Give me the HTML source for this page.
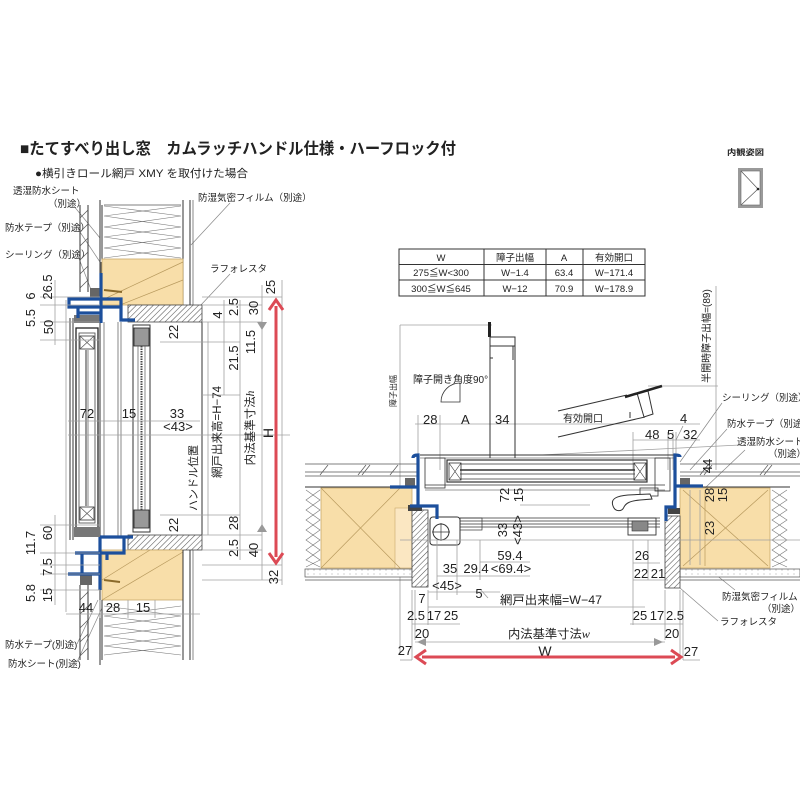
<!DOCTYPE html>
<html><head><meta charset="utf-8"><style>
html,body{margin:0;padding:0;background:#fff;}
svg{display:block}
text{font-family:"Liberation Sans","Noto Sans CJK JP",sans-serif;fill:#222}
.d{font-size:13px}
.s{font-size:9.5px}
.g{stroke:#a0a0a0;stroke-width:0.8;fill:none}
.k{stroke:#333;stroke-width:1;fill:none}
.k2{stroke:#555;stroke-width:0.7;fill:none}
.k3{stroke:#777;stroke-width:0.6;fill:none}
.b{stroke:#1c4f9c;stroke-width:3.2;fill:none;stroke-linejoin:miter}
.tan{fill:#f8dea9;stroke:#c9a96a;stroke-width:0.8}
.x{stroke:#b89a5e;stroke-width:0.7;fill:none}
.ld{stroke:#888;stroke-width:0.7;fill:none}
</style></head><body>
<svg width="800" height="800" viewBox="0 0 800 800" xmlns="http://www.w3.org/2000/svg">
<defs>
<pattern id="h" width="4" height="4" patternUnits="userSpaceOnUse" patternTransform="rotate(45)"><rect width="4" height="4" fill="#fff"/><line x1="0" y1="0" x2="0" y2="4" stroke="#555" stroke-width="1.1"/></pattern>
<pattern id="dt" width="6" height="4" patternUnits="userSpaceOnUse"><rect width="6" height="4" fill="#fff"/><circle cx="2" cy="2" r="0.5" fill="#888"/></pattern>
</defs>
<rect width="800" height="800" fill="#fff"/>

<!-- TITLE -->
<text x="20" y="154" font-size="16" font-weight="bold" textLength="436" lengthAdjust="spacingAndGlyphs">■たてすべり出し窓　カムラッチハンドル仕様・ハーフロック付</text>
<text x="35" y="177" font-size="11" textLength="213" lengthAdjust="spacingAndGlyphs">●横引きロール網戸 XMY を取付けた場合</text>

<!-- interior view icon -->
<text x="727" y="155" font-size="8" font-weight="bold" textLength="37" lengthAdjust="spacingAndGlyphs">内観姿図</text>
<rect x="738" y="168" width="25" height="40" fill="#9a9a9a"/>
<rect x="741" y="171" width="19" height="34" fill="#fff" stroke="#666" stroke-width="0.6"/>
<polyline points="741,171 758,189 741,205" fill="none" stroke="#555" stroke-width="0.7"/>
<circle cx="758" cy="189" r="1.3" fill="#222"/>

<!-- ================= LEFT DRAWING ================= -->
<text class="s" x="13" y="194">透湿防水シート</text>
<text class="s" x="48" y="207">（別途）</text>
<text class="s" x="5" y="231">防水テープ（別途）</text>
<text class="s" x="5" y="258">シーリング（別途）</text>
<text class="s" x="198" y="201">防湿気密フィルム（別途）</text>
<text class="s" x="210" y="272">ラフォレスタ</text>
<text class="s" x="5" y="648">防水テープ(別途)</text>
<text class="s" x="8" y="667">防水シート(別途)</text>
<line class="ld" x1="73" y1="205" x2="100" y2="238"/>
<line class="ld" x1="78" y1="229" x2="100" y2="262"/>
<line class="ld" x1="78" y1="256" x2="95" y2="300"/>
<line class="ld" x1="230" y1="203" x2="191" y2="245"/>
<line class="ld" x1="230" y1="274" x2="200" y2="306"/>
<line class="ld" x1="77" y1="644" x2="98" y2="600"/>
<line class="ld" x1="77" y1="662" x2="102" y2="608"/>

<!-- top wall -->
<line class="k" x1="80" y1="205" x2="80" y2="292"/>
<line class="k" x1="88" y1="205" x2="88" y2="292"/>
<g class="k2">
<line x1="80" y1="218" x2="88" y2="210"/><line x1="80" y1="232" x2="88" y2="224"/><line x1="80" y1="246" x2="88" y2="238"/><line x1="80" y1="260" x2="88" y2="252"/><line x1="80" y1="274" x2="88" y2="266"/><line x1="80" y1="288" x2="88" y2="280"/>
</g>
<line class="k" x1="100" y1="200" x2="100" y2="300"/>
<line class="k" x1="102" y1="205" x2="102" y2="260"/>
<rect x="100" y="262" width="2" height="30" fill="#555"/>
<polyline class="k3" points="104,206 181,216 104,227 181,237 104,248 181,258"/>
<polyline class="k3" points="181,206 104,216 181,227 104,237 181,248 104,258"/>
<line class="k2" x1="104" y1="205" x2="181" y2="205"/>
<line class="k" x1="183" y1="200" x2="183" y2="305"/>
<line class="k" x1="190" y1="200" x2="190" y2="305"/>
<line class="k2" x1="193" y1="200" x2="193" y2="305"/>
<rect class="tan" x="102" y="259" width="81" height="46"/>
<line class="x" x1="102" y1="300" x2="183" y2="262"/>
<line class="x" x1="120" y1="305" x2="183" y2="280"/>
<rect x="128" y="305" width="74" height="17" fill="url(#h)" stroke="#444" stroke-width="0.8"/>
<rect x="90" y="288" width="12" height="10" fill="#666"/>
<line x1="104" y1="290" x2="122" y2="292" stroke="#8a6a2a" stroke-width="2"/>

<!-- bottom wall -->
<rect x="128" y="535" width="74" height="15" fill="url(#h)" stroke="#444" stroke-width="0.8"/>
<rect class="tan" x="102" y="550" width="81" height="50"/>
<line class="x" x1="102" y1="600" x2="183" y2="552"/>
<line class="x" x1="102" y1="580" x2="150" y2="550"/>
<line x1="104" y1="580" x2="120" y2="582" stroke="#8a6a2a" stroke-width="2"/>
<line class="k" x1="183" y1="550" x2="183" y2="660"/>
<line class="k" x1="190" y1="550" x2="190" y2="660"/>
<line class="k2" x1="193" y1="550" x2="193" y2="660"/>
<polyline class="k3" points="104,606 181,616 104,626 181,636 104,646 181,655"/>
<polyline class="k3" points="181,606 104,616 181,626 104,636 181,646 104,655"/>
<line class="k" x1="102" y1="600" x2="102" y2="660"/>
<line class="k" x1="100" y1="580" x2="100" y2="665"/>
<line class="k" x1="80" y1="585" x2="80" y2="660"/>
<line class="k" x1="88" y1="585" x2="88" y2="660"/>
<g class="k2">
<line x1="80" y1="600" x2="88" y2="592"/><line x1="80" y1="614" x2="88" y2="606"/><line x1="80" y1="628" x2="88" y2="620"/><line x1="80" y1="642" x2="88" y2="634"/><line x1="80" y1="656" x2="88" y2="648"/>
</g>
<rect x="80" y="575" width="12" height="10" fill="#666"/>

<!-- window sash (left) -->
<line class="k" x1="70" y1="318" x2="70" y2="540"/>
<line class="k" x1="73" y1="318" x2="73" y2="540"/>
<rect x="76" y="328" width="22" height="200" fill="none" stroke="#222" stroke-width="1.3"/>
<rect x="79" y="333" width="16" height="190" fill="none" stroke="#444" stroke-width="0.8"/>
<rect x="80" y="336" width="14" height="13" fill="none" stroke="#333" stroke-width="0.8"/>
<path d="M80,336 L94,349 M94,336 L80,349" class="k2"/>
<rect x="80" y="507" width="14" height="13" fill="none" stroke="#333" stroke-width="0.8"/>
<path d="M80,507 L94,520 M94,507 L80,520" class="k2"/>
<line class="k" x1="86" y1="350" x2="86" y2="506"/>
<line class="k2" x1="88" y1="350" x2="88" y2="506"/>
<line class="k" x1="100" y1="322" x2="100" y2="536"/>
<line class="k2" x1="104" y1="322" x2="104" y2="536"/>
<line class="k2" x1="118" y1="322" x2="118" y2="536"/>
<line class="k2" x1="121" y1="322" x2="121" y2="536"/>
<rect x="74" y="315" width="26" height="8" fill="#777"/>
<rect x="74" y="527" width="26" height="10" fill="#777"/>
<!-- screen -->
<rect x="133" y="325" width="17" height="207" fill="none" stroke="#333" stroke-width="1"/>
<rect x="134" y="328" width="15" height="18" fill="#999" stroke="#222" stroke-width="0.8"/>
<rect x="134" y="510" width="15" height="18" fill="#999" stroke="#222" stroke-width="0.8"/>
<line x1="141.5" y1="346" x2="141.5" y2="510" stroke="#444" stroke-width="2" stroke-dasharray="1.5 1"/>
<line class="k2" x1="138" y1="346" x2="138" y2="510"/>
<line class="k2" x1="145" y1="346" x2="145" y2="510"/>
<line class="k" x1="202" y1="322" x2="202" y2="535"/>

<!-- blue frames left -->
<path class="b" d="M101,273 L101,323 M69,299 L121,299 L121,307 L69,307 Z M121,307 L121,320 L135,320 M78,313 L101,313 M78,307 L78,318"/>
<path class="b" d="M100,537 L100,590 M100,537 L133,537 M124,537 L124,553 L75,553 M68,574 L100,574 M82,553 L82,574 M107,553 L107,560"/>

<!-- gray dims left -->
<g class="g">
<line x1="40" y1="297" x2="100" y2="297"/>
<line x1="40" y1="305" x2="100" y2="305"/>
<line x1="40" y1="322" x2="100" y2="322"/>
<line x1="40" y1="340" x2="100" y2="340"/>
<line x1="55" y1="280" x2="55" y2="345"/>
<line x1="40" y1="525" x2="100" y2="525"/>
<line x1="40" y1="553" x2="100" y2="553"/>
<line x1="40" y1="565" x2="100" y2="565"/>
<line x1="40" y1="574" x2="100" y2="574"/>
<line x1="40" y1="590" x2="100" y2="590"/>
<line x1="55" y1="515" x2="55" y2="605"/>
<line x1="66" y1="300" x2="66" y2="612"/>
<line x1="66" y1="614" x2="200" y2="614"/>
<line x1="100" y1="600" x2="100" y2="618"/>
<line x1="128" y1="600" x2="128" y2="618"/>
<line x1="155" y1="600" x2="155" y2="618"/>
<line x1="68" y1="421" x2="200" y2="421"/>
<line x1="68" y1="435" x2="290" y2="435"/>
<line x1="202" y1="297" x2="282" y2="297"/>
<line x1="202" y1="305" x2="262" y2="305"/>
<line x1="202" y1="322" x2="262" y2="322"/>
<line x1="160" y1="342" x2="240" y2="342"/>
<line x1="202" y1="395" x2="240" y2="395"/>
<line x1="160" y1="515" x2="240" y2="515"/>
<line x1="202" y1="535" x2="262" y2="535"/>
<line x1="202" y1="550" x2="262" y2="550"/>
<line x1="202" y1="565" x2="282" y2="565"/>
<line x1="202" y1="580" x2="282" y2="580"/>
<line x1="224" y1="300" x2="224" y2="395"/>
<line x1="240" y1="300" x2="240" y2="560"/>
<line x1="262" y1="285" x2="262" y2="580"/>
<line x1="282" y1="280" x2="282" y2="585"/>
<line x1="208" y1="322" x2="208" y2="535"/>
</g>
<polygon points="257,322 267,322 262,330" fill="#999"/>
<polygon points="257,532 267,532 262,524" fill="#999"/>

<g class="d" text-anchor="middle">
<text transform="translate(35,296) rotate(-90)">6</text>
<text transform="translate(52,287) rotate(-90)">26.5</text>
<text transform="translate(35,318) rotate(-90)">5.5</text>
<text transform="translate(53,327) rotate(-90)">50</text>
<text transform="translate(35,543) rotate(-90)">11.7</text>
<text transform="translate(52,533) rotate(-90)">60</text>
<text transform="translate(52,567) rotate(-90)">7.5</text>
<text transform="translate(35,593) rotate(-90)">5.8</text>
<text transform="translate(52,595) rotate(-90)">15</text>
<text x="86" y="612">44</text>
<text x="113" y="612">28</text>
<text x="143" y="612">15</text>
<text x="87" y="418">72</text>
<text x="129" y="418">15</text>
<text x="177" y="418">33</text>
<text x="178" y="431">&lt;43&gt;</text>
<text transform="translate(178,332) rotate(-90)">22</text>
<text transform="translate(178,525) rotate(-90)">22</text>
<text transform="translate(275,287) rotate(-90)">25</text>
<text transform="translate(238,307) rotate(-90)">2.5</text>
<text transform="translate(258,308) rotate(-90)">30</text>
<text transform="translate(222,315) rotate(-90)">4</text>
<text transform="translate(255,342) rotate(-90)">11.5</text>
<text transform="translate(238,358) rotate(-90)">21.5</text>
<text transform="translate(238,523) rotate(-90)">28</text>
<text transform="translate(238,548) rotate(-90)">2.5</text>
<text transform="translate(258,550) rotate(-90)">40</text>
<text transform="translate(278,577) rotate(-90)">32</text>
</g>
<g text-anchor="middle">
<text transform="translate(197,478) rotate(-90)" font-size="11">ハンドル位置</text>
<text transform="translate(221,432) rotate(-90)" font-size="11.5">網戸出来高=H−74</text>
<text transform="translate(254,428) rotate(-90)" font-size="11.5">内法基準寸法<tspan font-family="Liberation Serif" font-style="italic">h</tspan></text>
<text transform="translate(273,433) rotate(-90)" font-size="14">H</text>
</g>
<line x1="276" y1="306" x2="276" y2="557" stroke="#dc4a55" stroke-width="3"/>
<polyline points="269,310 276,300 283,310" fill="none" stroke="#dc4a55" stroke-width="3"/>
<polyline points="269,553 276,563 283,553" fill="none" stroke="#dc4a55" stroke-width="3"/>

<!-- ================= RIGHT DRAWING ================= -->
<g stroke="#333" stroke-width="1" fill="none">
<rect x="399" y="249" width="246" height="47"/>
<line x1="399" y1="264.5" x2="645" y2="264.5"/>
<line x1="399" y1="280" x2="645" y2="280"/>
<line x1="484" y1="249" x2="484" y2="296"/>
<line x1="546" y1="249" x2="546" y2="296"/>
<line x1="583" y1="249" x2="583" y2="296"/>
</g>
<g font-size="9.5" text-anchor="middle">
<text x="441" y="261">W</text><text x="515" y="261">障子出幅</text><text x="564" y="261">A</text><text x="614" y="261">有効開口</text>
<text x="441" y="276">275≦W&lt;300</text><text x="515" y="276">W−1.4</text><text x="564" y="276">63.4</text><text x="614" y="276">W−171.4</text>
<text x="441" y="292">300≦W≦645</text><text x="515" y="292">W−12</text><text x="564" y="292">70.9</text><text x="614" y="292">W−178.9</text>
</g>

<g class="g">
<line x1="400" y1="325" x2="492" y2="325"/>
<line x1="400" y1="325" x2="400" y2="655"/>
<line x1="415" y1="424" x2="700" y2="424"/>
<line x1="418" y1="415" x2="418" y2="470"/>
<line x1="440" y1="415" x2="440" y2="470"/>
<line x1="648" y1="386" x2="718" y2="386"/>
<line x1="716" y1="286" x2="716" y2="470"/>
<line x1="633" y1="440" x2="700" y2="440"/>
<line x1="633" y1="432" x2="633" y2="470"/>
<line x1="668" y1="432" x2="668" y2="470"/>
<line x1="673" y1="432" x2="673" y2="470"/>
<line x1="676" y1="432" x2="676" y2="470"/>
<line x1="540" y1="455" x2="740" y2="445"/>
</g>
<rect x="488" y="322" width="3" height="15" fill="#222"/>
<rect x="490" y="337" width="25" height="9" fill="none" stroke="#333" stroke-width="1"/>
<line class="k" x1="490" y1="346" x2="490" y2="458"/>
<line class="k" x1="515" y1="346" x2="515" y2="458"/>
<line class="k" x1="513" y1="346" x2="513" y2="360"/>
<line class="k" x1="490" y1="358" x2="493" y2="358"/>
<text transform="translate(396,391) rotate(-90)" font-size="8" text-anchor="middle">障子出幅</text>
<text x="413" y="383" font-size="10">障子開き角度90°</text>
<path d="M441,402 A19,19 0 0 1 460,383 L460,402 Z" fill="none" stroke="#333" stroke-width="0.8"/>
<g class="d">
<text x="423" y="424">28</text>
<text x="461" y="424">A</text>
<text x="495" y="424">34</text>
<text x="645" y="439">48</text>
<text x="667" y="439">5</text>
<text x="680" y="423">4</text>
<text x="683" y="439">32</text>
</g>
<text x="563" y="422" font-size="10">有効開口</text>
<line class="ld" x1="676" y1="440" x2="683" y2="426"/>
<line class="k" x1="558" y1="411" x2="627" y2="395"/>
<line class="k" x1="558" y1="437" x2="645" y2="417"/>
<polygon points="637,393 648,391 653,414 644,417" fill="none" stroke="#333" stroke-width="1"/>
<line x1="625" y1="397" x2="662" y2="386" stroke="#222" stroke-width="2.5"/>
<line class="k" x1="630" y1="412" x2="630" y2="418"/>
<text transform="translate(710,336) rotate(-90)" font-size="10" text-anchor="middle">半開時障子出幅=(89)</text>

<text class="s" x="722" y="401">シーリング（別途）</text>
<text class="s" x="727" y="427">防水テープ（別途）</text>
<text class="s" x="737" y="445">透湿防水シート</text>
<text class="s" x="768" y="457">（別途）</text>
<text class="s" x="722" y="600">防湿気密フィルム</text>
<text class="s" x="762" y="612">（別途）</text>
<text class="s" x="720" y="625">ラフォレスタ</text>
<line class="ld" x1="722" y1="403" x2="680" y2="462"/>
<line class="ld" x1="727" y1="429" x2="690" y2="470"/>
<line class="ld" x1="745" y1="450" x2="705" y2="488"/>
<line class="ld" x1="735" y1="590" x2="710" y2="570"/>
<line class="ld" x1="718" y1="621" x2="680" y2="588"/>

<g class="k2">
<line x1="305" y1="464" x2="418" y2="464"/>
<line x1="305" y1="472" x2="418" y2="472"/>
<line x1="305" y1="476" x2="418" y2="476"/>
<line x1="320" y1="475" x2="328" y2="465"/><line x1="358" y1="475" x2="366" y2="465"/><line x1="362" y1="475" x2="370" y2="465"/><line x1="390" y1="475" x2="398" y2="465"/>
<line x1="680" y1="464" x2="800" y2="464"/>
<line x1="680" y1="472" x2="800" y2="472"/>
<line x1="680" y1="476" x2="800" y2="476"/>
<line x1="700" y1="475" x2="708" y2="465"/><line x1="704" y1="475" x2="712" y2="465"/><line x1="760" y1="475" x2="768" y2="465"/><line x1="764" y1="475" x2="772" y2="465"/>
</g>
<line class="k" x1="305" y1="487" x2="412" y2="487"/>
<line class="k" x1="680" y1="487" x2="790" y2="487"/>
<rect class="tan" x="321" y="488" width="91" height="80"/>
<rect x="395" y="508" width="17" height="60" fill="#fbe7c2" stroke="#c9a96a" stroke-width="0.6"/>
<line class="x" x1="321" y1="488" x2="400" y2="568"/>
<line class="x" x1="400" y1="488" x2="321" y2="568"/>
<rect class="tan" x="680" y="488" width="90" height="80"/>
<line class="x" x1="683" y1="490" x2="768" y2="566"/>
<line class="x" x1="768" y1="490" x2="683" y2="566"/>
<line class="x" x1="705" y1="490" x2="705" y2="566"/>
<polyline class="k3" points="306,490 320,500 306,510 320,520 306,530 320,540 306,550 320,560 306,567"/>
<polyline class="k3" points="320,490 306,500 320,510 306,520 320,530 306,540 320,550 306,560 320,567"/>
<polyline class="k3" points="772,490 787,500 772,510 787,520 772,530 787,540 772,550 787,560 772,567"/>
<polyline class="k3" points="787,490 772,500 787,510 772,520 787,530 772,540 787,550 772,560 787,567"/>
<rect x="305" y="569" width="107" height="8" fill="url(#dt)" stroke="#555" stroke-width="0.7"/>
<rect x="680" y="569" width="120" height="8" fill="url(#dt)" stroke="#555" stroke-width="0.7"/>
<line class="k2" x1="305" y1="580" x2="412" y2="580"/>
<line class="k2" x1="680" y1="580" x2="800" y2="580"/>
<rect x="412" y="510" width="16" height="77" fill="url(#h)" stroke="#444" stroke-width="0.8"/>
<rect x="665" y="516" width="15" height="72" fill="url(#h)" stroke="#444" stroke-width="0.8"/>
<rect x="405" y="478" width="10" height="10" fill="#666"/>
<rect x="680" y="478" width="10" height="8" fill="#666"/>
<rect x="408" y="505" width="14" height="6" fill="#444"/>
<rect x="668" y="508" width="12" height="6" fill="#444"/>

<g stroke="#333" fill="none">
<line x1="420" y1="455" x2="675" y2="455" stroke-width="1"/>
<line x1="420" y1="458" x2="675" y2="458" stroke-width="0.6"/>
<rect x="447" y="460" width="200" height="22" stroke-width="1.2"/>
<line x1="460" y1="464" x2="635" y2="464" stroke-width="0.7"/>
<line x1="460" y1="470" x2="635" y2="470" stroke-width="1.5"/>
<line x1="460" y1="474" x2="635" y2="474" stroke-width="0.7"/>
<line x1="460" y1="479" x2="635" y2="479" stroke-width="0.7"/>
<rect x="449" y="463" width="12" height="17" stroke-width="0.8"/>
<path d="M449,463 L461,480 M461,463 L449,480" stroke-width="0.6"/>
<rect x="634" y="463" width="12" height="17" stroke-width="0.8"/>
<path d="M634,463 L646,480 M646,463 L634,480" stroke-width="0.6"/>
<line x1="425" y1="485" x2="665" y2="485" stroke-width="0.8"/>
<line x1="425" y1="490" x2="665" y2="490" stroke-width="0.6"/>
<rect x="425" y="458" width="20" height="30" stroke-width="0.8"/>
<rect x="655" y="458" width="15" height="33" stroke-width="0.8"/>
<rect x="640" y="488" width="18" height="8" stroke-width="0.8"/>
</g>
<path d="M650,494 L628,495 C618,496 610,498 613,506 C615,512 622,512 624,507 C626,503 630,501 640,500 L652,499 Z" fill="#fff" stroke="#333" stroke-width="1"/>
<g stroke="#333" fill="none">
<line x1="460" y1="518" x2="660" y2="518" stroke-width="0.8"/>
<line x1="460" y1="521" x2="660" y2="521" stroke-width="0.8"/>
<line x1="460" y1="524" x2="660" y2="524" stroke-width="0.8"/>
<line x1="460" y1="527" x2="660" y2="527" stroke-width="0.8"/>
<rect x="430" y="517" width="30" height="28" rx="3" stroke-width="1"/>
<circle cx="441" cy="532" r="8" stroke-width="1"/>
<line x1="432" y1="532" x2="450" y2="532" stroke-width="0.7"/>
<line x1="441" y1="523" x2="441" y2="541" stroke-width="0.7"/>
<rect x="460" y="518" width="22" height="12" stroke-width="0.7"/>
<rect x="628" y="518" width="28" height="17" stroke-width="0.9"/>
<rect x="632" y="521" width="16" height="10" fill="#888" stroke-width="0.6"/>
</g>
<path class="b" d="M413,458 Q413,455 418,455 L418,506 L437,506 L437,519 M390,487 L418,487 M410,506 L418,506"/>
<path class="b" d="M680,457 Q680,455 675,455 L675,507 L666,507 L666,521 M675,486 L703,486"/>

<g class="g">
<line x1="437" y1="540" x2="437" y2="600"/>
<line x1="457" y1="540" x2="457" y2="595"/>
<line x1="480" y1="540" x2="480" y2="580"/>
<line x1="412" y1="590" x2="412" y2="660"/>
<line x1="415" y1="590" x2="415" y2="640"/>
<line x1="428" y1="590" x2="428" y2="625"/>
<line x1="633" y1="540" x2="633" y2="625"/>
<line x1="648" y1="540" x2="648" y2="580"/>
<line x1="665" y1="590" x2="665" y2="640"/>
<line x1="680" y1="590" x2="680" y2="660"/>
<line x1="683" y1="590" x2="683" y2="660"/>
<line x1="690" y1="490" x2="690" y2="565"/>
<line x1="700" y1="490" x2="700" y2="565"/>
<line x1="480" y1="562" x2="530" y2="562"/>
<line x1="437" y1="576" x2="530" y2="576"/>
<line x1="428" y1="592" x2="500" y2="592"/>
<line x1="633" y1="563" x2="660" y2="563"/>
<line x1="633" y1="580" x2="668" y2="580"/>
<line x1="428" y1="607" x2="645" y2="607"/>
<line x1="412" y1="624" x2="460" y2="624"/>
<line x1="630" y1="624" x2="683" y2="624"/>
<line x1="415" y1="642" x2="665" y2="642"/>
<line x1="400" y1="660" x2="412" y2="660"/>
<line x1="683" y1="660" x2="700" y2="660"/>
<line x1="480" y1="589" x2="488" y2="598"/>
<line x1="590" y1="505" x2="520" y2="505"/>
<line x1="400" y1="540" x2="800" y2="540"/>
</g>
<polygon points="417,642 426,638 426,646" fill="#999"/>
<polygon points="663,642 654,638 654,646" fill="#999"/>

<g class="d" text-anchor="middle">
<text transform="translate(509,495) rotate(-90)">72</text>
<text transform="translate(523,495) rotate(-90)">15</text>
<text transform="translate(507,530) rotate(-90)">33</text>
<text transform="translate(522,530) rotate(-90)">&lt;43&gt;</text>
<text transform="translate(714,495) rotate(-90)">28</text>
<text transform="translate(727,495) rotate(-90)">15</text>
<text transform="translate(714,528) rotate(-90)">23</text>
<text transform="translate(712,466) rotate(-90)">44</text>
<text x="510" y="560">59.4</text>
<text x="511" y="573">&lt;69.4&gt;</text>
<text x="450" y="573">35</text>
<text x="476" y="573">29.4</text>
<text x="447" y="590">&lt;45&gt;</text>
<text x="479" y="598">5</text>
<text x="422" y="603">7</text>
<text x="416" y="620">2.5</text>
<text x="434" y="620">17</text>
<text x="451" y="620">25</text>
<text x="422" y="638">20</text>
<text x="405" y="655">27</text>
<text x="545" y="656" font-size="14">W</text>
<text x="642" y="560">26</text>
<text x="641" y="578">22</text>
<text x="658" y="578">21</text>
<text x="640" y="620">25</text>
<text x="657" y="620">17</text>
<text x="675" y="620">2.5</text>
<text x="672" y="638">20</text>
<text x="691" y="656">27</text>
</g>
<text x="500" y="604" font-size="12" textLength="102" lengthAdjust="spacingAndGlyphs">網戸出来幅=W−47</text>
<text x="508" y="638" font-size="12" textLength="82" lengthAdjust="spacingAndGlyphs">内法基準寸法<tspan font-family="Liberation Serif" font-style="italic">w</tspan></text>

<line x1="422" y1="657" x2="675" y2="657" stroke="#dc4a55" stroke-width="3"/>
<polyline points="426,650 416,657 426,664" fill="none" stroke="#dc4a55" stroke-width="3"/>
<polyline points="671,650 681,657 671,664" fill="none" stroke="#dc4a55" stroke-width="3"/>
</svg>
</body></html>
